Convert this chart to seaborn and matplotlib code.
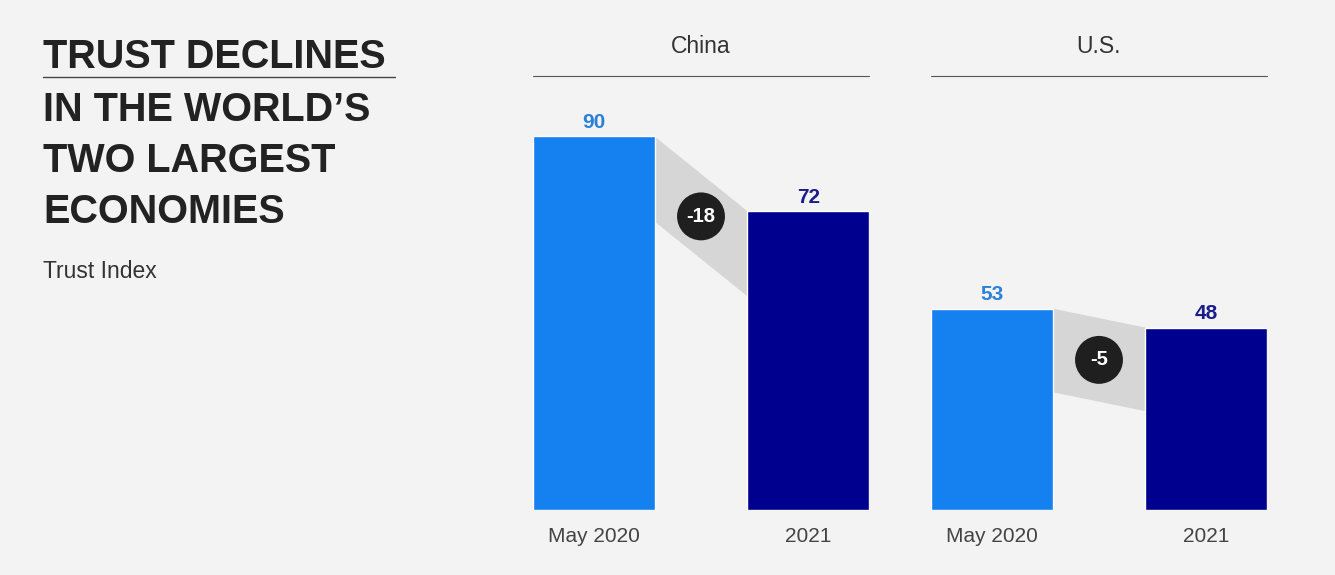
import matplotlib
matplotlib.use("Agg")
import matplotlib.pyplot as plt
import seaborn as sns
import numpy as np
from matplotlib.lines import Line2D

# ---- data ----
countries = ["China", "U.S."]
periods = ["May 2020", "2021"]
china_values = [90, 72]
us_values = [53, 48]
changes = ["-18", "-5"]
title_lines = ["TRUST DECLINES", "IN THE WORLD\u2019S", "TWO LARGEST", "ECONOMIES"]
subtitle = "Trust Index"

# ---- style ----
BG = "#f3f3f3"
LIGHT = "#1580ef"
NAVY = "#00008f"
LIGHT_TXT = "#2b80d8"
NAVY_TXT = "#1c1c8a"
BAND = "#d6d6d6"

sns.set_theme(style="white")
plt.rcParams["font.family"] = ["Liberation Sans", "DejaVu Sans"]

W, H = 1335, 575
fig = plt.figure(figsize=(W / 100, H / 100), dpi=100, facecolor=BG)

def px_axes(left, right, bottom, top):
    return fig.add_axes([left / W, 1 - bottom / H, (right - left) / W, (bottom - top) / H])

bar_w = 0.567
panels = [
    (countries[0], china_values, changes[0], 533, 869, 100.0, 20.5),
    (countries[1], us_values, changes[1], 931, 1267, 109.2, 22.0),
]

for name, vals, chg, left, right, ymax, depth in panels:
    ax = px_axes(left, right, 510, 95)
    ax.set_facecolor(BG)
    sns.barplot(x=periods, y=vals, hue=periods, palette=[LIGHT, NAVY],
                width=bar_w, legend=False, ax=ax, saturation=1, zorder=3)
    ax.set_xlim(-bar_w / 2, 1 + bar_w / 2)
    ax.set_ylim(0, ymax)
    for s in ax.spines.values():
        s.set_visible(False)
    ax.set_yticks([])
    ax.set_ylabel("")
    ax.set_xlabel("")
    ax.tick_params(axis="x", length=0, pad=12.5, labelsize=15, labelcolor="#444444")
    # connector band
    x0, x1 = bar_w / 2, 1 - bar_w / 2
    poly = np.array([[x0, vals[0]], [x1, vals[1]], [x1, vals[1] - depth], [x0, vals[0] - depth]])
    ax.fill(poly[:, 0], poly[:, 1], color=BAND, zorder=1, lw=0)
    cx = 0.5
    cy = (vals[0] + vals[1]) / 2 - depth / 2
    ax.scatter([cx], [cy], s=1190, color="#1f1f1f", zorder=5, edgecolors="none")
    ax.text(cx, cy, chg, color="white", fontsize=14.5, fontweight="bold",
            ha="center", va="center", zorder=6)
    # value labels
    for i, (v, c) in enumerate(zip(vals, [LIGHT_TXT, NAVY_TXT])):
        ax.annotate(str(v), (i, v), xytext=(0, 10), textcoords="offset points",
                    ha="center", va="center", fontsize=15, fontweight="bold", color=c)
    # header
    ax.plot([0, 1], [(510 - 76) / 415] * 2, transform=ax.transAxes, clip_on=False,
            color="#555555", lw=0.8)
    ax.text(0.5, (510 - 47) / 415, name, transform=ax.transAxes, ha="center",
            va="center", fontsize=16.5, color="#333333")

# title block
ys = [57, 110, 161, 212]
for t, y in zip(title_lines, ys):
    fig.text(43 / W, 1 - y / H, t, fontsize=28.5, fontweight="bold", color="#222222",
             ha="left", va="center")
fig.add_artist(Line2D([43 / W, 395 / W], [1 - 77 / H] * 2, color="#444444", lw=1))
fig.text(43 / W, 1 - 272 / H, subtitle, fontsize=16.5, color="#333333", ha="left", va="center")

fig.savefig("out.png", dpi=100, facecolor=BG)
